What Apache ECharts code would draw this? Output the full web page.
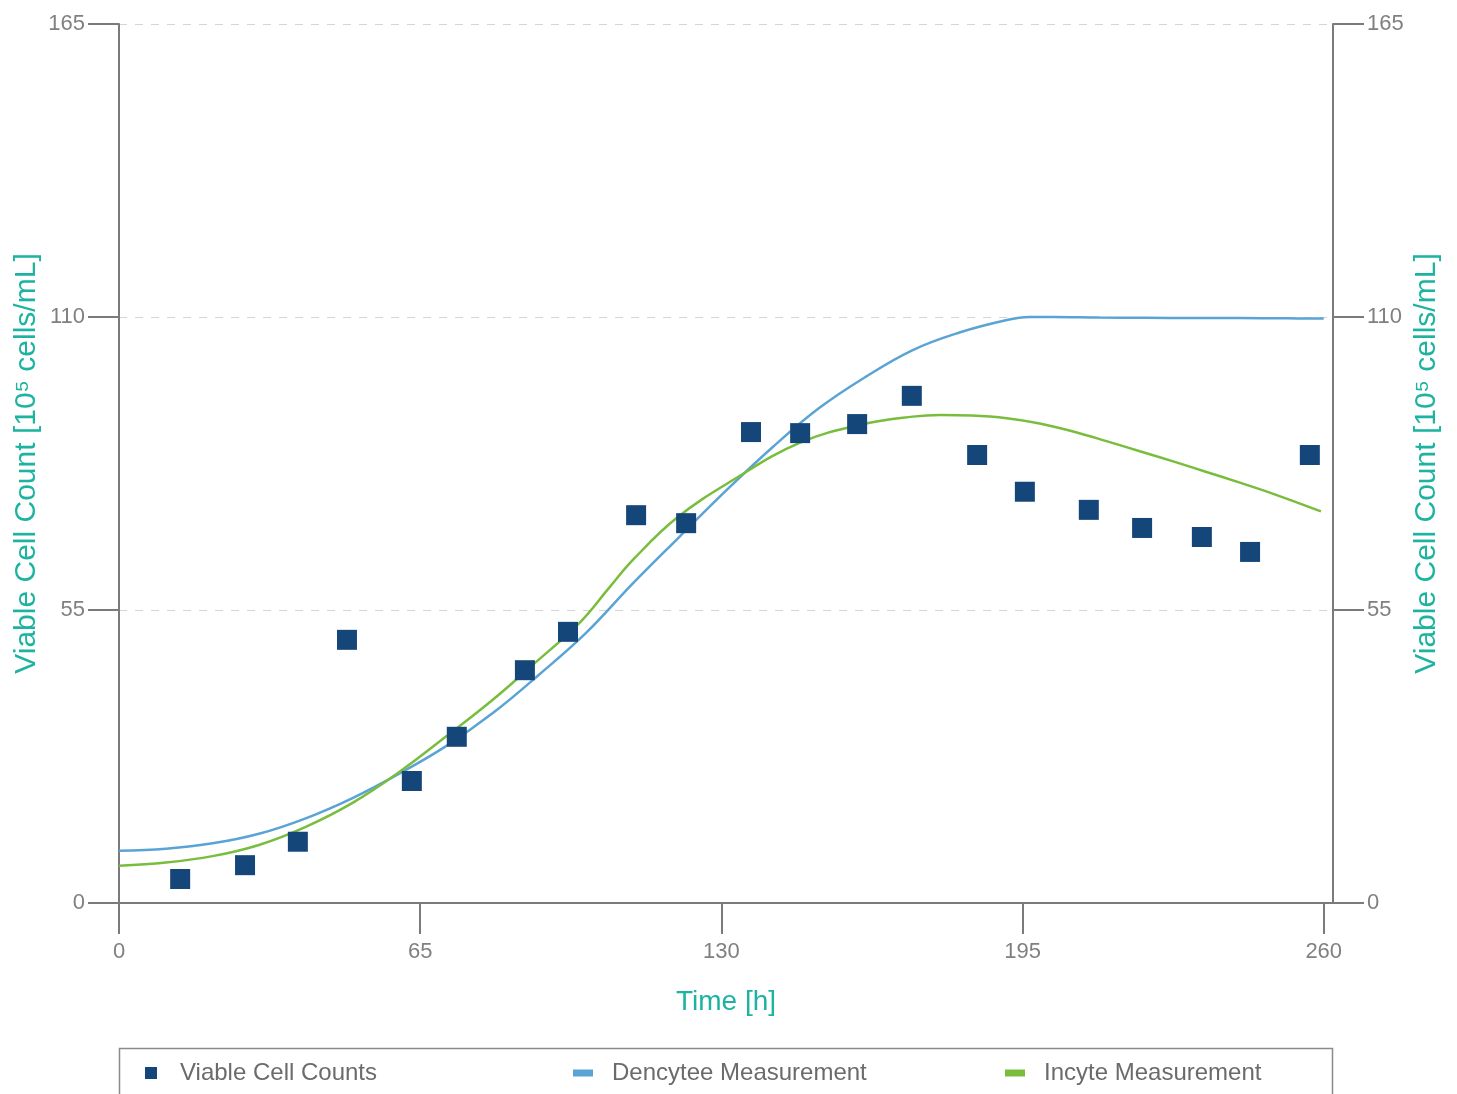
<!DOCTYPE html>
<html>
<head>
<meta charset="utf-8">
<title>Viable Cell Count</title>
<script src="https://cdn.jsdelivr.net/npm/echarts@6/dist/echarts.min.js"></script>
<style>
  html, body { margin: 0; padding: 0; background: #ffffff; }
  #chart { width: 1457px; height: 1094px; }
</style>
</head>
<body>
<div id="chart"></div>
<script>
// Time axis ticks [h] and count axis ticks [10^5 cells/mL]
const timeTicks = [0, 65, 130, 195, 260];
const timeAxisMax = 262;
const countTicks = [0, 55, 110, 165];

// Viable cell counts (discrete samples)
const sampleTimes  = [13.2, 27.2, 38.6, 49.2, 63.2, 72.9, 87.6, 96.9, 111.6, 122.4, 136.4,
                      147.0, 159.3, 171.1, 185.2, 195.5, 209.3, 220.8, 233.7, 244.1, 257.0];
const sampleCounts = [4.5, 7.1, 11.5, 49.4, 22.9, 31.2, 43.7, 50.9, 72.8, 71.3, 88.4,
                      88.2, 89.9, 95.2, 84.1, 77.2, 73.8, 70.4, 68.7, 65.9, 84.1];

// Dencytee probe trace
const dencyteeTimes  = [0, 10.1, 20.2, 30.2, 40.3, 50.4, 60.5, 70.5, 80.6, 90.7, 100.8, 110.8, 120.9, 131.0,
                        141.1, 151.1, 161.2, 171.3, 181.4, 191.4, 196.5, 201.5, 211.6, 221.7, 231.7, 241.8, 251.9, 260.0];
const dencyteeValues = [9.8, 10.2, 11.2, 13.0, 15.9, 19.7, 24.3, 29.4, 35.6, 42.9, 50.7, 59.9, 68.7, 77.4,
                        85.6, 92.9, 98.8, 103.8, 107.1, 109.4, 110.0, 110.0, 109.9, 109.85, 109.8, 109.8, 109.75, 109.7];

// Incyte probe trace
const incyteTimes  = [0, 10.1, 20.2, 30.2, 40.3, 50.4, 60.5, 70.5, 80.6, 89.3, 99.4, 105.9, 110.9, 120.4,
                      132.5, 147.0, 161.2, 171.3, 177.2, 184.0, 191.6, 198.7, 205.9, 213.1, 220.3, 227.5,
                      234.7, 241.9, 249.1, 259.4];
const incyteValues = [7.0, 7.6, 8.8, 10.9, 14.3, 18.8, 24.6, 31.2, 38.1, 44.7, 52.6, 59.3, 64.4, 72.3,
                      79.4, 86.4, 90.0, 91.3, 91.6, 91.5, 91.0, 90.0, 88.5, 86.7, 84.8, 82.9,
                      80.9, 78.9, 76.8, 73.5];

const pairs = (xs, ys) => xs.map((x, i) => [x, ys[i]]);

const FONT = 'Liberation Sans, Arial, sans-serif';
const AXIS_GRAY = '#7b7b7e';
const LABEL_GRAY = '#808080';
const TEAL = '#1db3a1';
const C_COUNTS = '#15467a';
const C_DENCYTEE = '#5aa4d5';
const C_INCYTE = '#79bd3d';

const yAxisBase = {
  type: 'value',
  min: countTicks[0],
  max: countTicks[countTicks.length - 1],
  interval: 55,
  name: 'Viable Cell Count [10\u2075 cells/mL]',
  nameLocation: 'middle',
  nameRotate: 90,
  nameMoveOverlap: false,
  nameTextStyle: { color: TEAL, fontSize: 30, fontFamily: FONT },
  axisLine: { show: true, lineStyle: { color: AXIS_GRAY, width: 2 } },
  axisTick: { show: true, length: 31, inside: false, lineStyle: { color: AXIS_GRAY, width: 2 } },
  axisLabel: { color: LABEL_GRAY, fontSize: 22, fontFamily: FONT, margin: 34 }
};

const legendText = (pad) => ({
  color: '#6b6b6b', fontSize: 24, fontFamily: FONT, padding: [0, 0, 0, pad], lineHeight: 26
});

const chart = echarts.init(document.getElementById('chart'), null, { renderer: 'canvas' });

chart.setOption({
  backgroundColor: '#ffffff',
  animation: false,
  grid: { left: 119, right: 124, top: 24, bottom: 191, containLabel: false },
  xAxis: {
    type: 'value',
    min: timeTicks[0],
    max: timeAxisMax,
    interval: 65,
    name: 'Time [h]',
    nameLocation: 'middle',
    nameGap: 85,
    nameTextStyle: { color: TEAL, fontSize: 28, fontFamily: FONT },
    axisLine: { show: true, lineStyle: { color: AXIS_GRAY, width: 2 } },
    axisTick: { show: true, length: 31, customValues: timeTicks, lineStyle: { color: AXIS_GRAY, width: 2 } },
    axisLabel: { color: LABEL_GRAY, fontSize: 22, fontFamily: FONT, margin: 38, customValues: timeTicks },
    splitLine: { show: false }
  },
  yAxis: [
    Object.assign({}, yAxisBase, {
      position: 'left',
      nameGap: 77,
      splitLine: { show: true, lineStyle: { color: '#d4d4d4', width: 1, type: [8, 8] } }
    }),
    Object.assign({}, yAxisBase, {
      position: 'right',
      nameGap: 79,
      splitLine: { show: false }
    })
  ],
  legend: [
    {
      data: [{ name: 'Viable Cell Counts', icon: 'rect' }],
      left: 145, top: 1060, padding: 0, itemWidth: 12, itemHeight: 12,
      textStyle: legendText(18)
    },
    {
      data: [{ name: 'Dencytee Measurement', icon: 'rect' }],
      left: 573, top: 1060, padding: 0, itemWidth: 20, itemHeight: 7,
      textStyle: legendText(14)
    },
    {
      data: [{ name: 'Incyte Measurement', icon: 'rect' }],
      left: 1005, top: 1060, padding: 0, itemWidth: 20, itemHeight: 7,
      textStyle: legendText(14)
    }
  ],
  graphic: [
    {
      type: 'rect',
      shape: { x: 119.5, y: 1048.5, width: 1213, height: 80 },
      style: { fill: 'none', stroke: '#8a8a8a', lineWidth: 1.5 },
      silent: true
    }
  ],
  series: [
    {
      name: 'Dencytee Measurement',
      type: 'line',
      data: pairs(dencyteeTimes, dencyteeValues),
      smooth: 0.4,
      showSymbol: false,
      symbol: 'none',
      lineStyle: { color: C_DENCYTEE, width: 2.5 },
      itemStyle: { color: C_DENCYTEE },
      z: 2
    },
    {
      name: 'Incyte Measurement',
      type: 'line',
      data: pairs(incyteTimes, incyteValues),
      smooth: 0.4,
      showSymbol: false,
      symbol: 'none',
      lineStyle: { color: C_INCYTE, width: 2.5 },
      itemStyle: { color: C_INCYTE },
      z: 3
    },
    {
      name: 'Viable Cell Counts',
      type: 'scatter',
      data: pairs(sampleTimes, sampleCounts),
      symbol: 'rect',
      symbolSize: 20,
      itemStyle: { color: C_COUNTS, opacity: 1 },
      z: 4
    }
  ]
});
</script>
</body>
</html>
